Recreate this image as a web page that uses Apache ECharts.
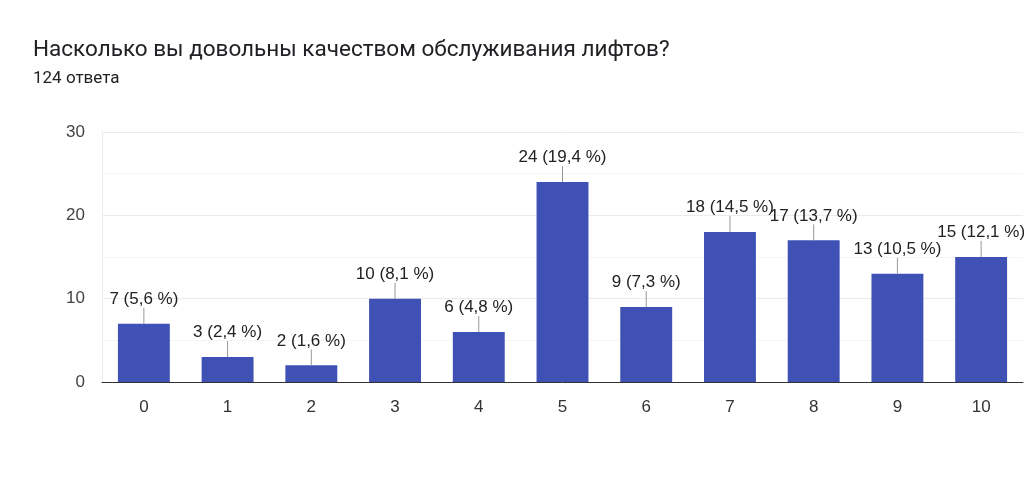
<!DOCTYPE html>
<html>
<head>
<meta charset="utf-8">
<script src="https://cdn.jsdelivr.net/npm/echarts@6/dist/echarts.min.js"></script>
<style>
html,body{margin:0;padding:0;background:#fff;}
#chart{width:1024px;height:487px;}
</style>
</head>
<body>
<div id="chart"></div>
<script>
const titleText = 'Насколько вы довольны качеством обслуживания лифтов?';
const subtitleText = '124 ответа';
const categories = ['0','1','2','3','4','5','6','7','8','9','10'];
const counts = [7, 3, 2, 10, 6, 24, 9, 18, 17, 13, 15];
const percents = ['5,6', '2,4', '1,6', '8,1', '4,8', '19,4', '7,3', '14,5', '13,7', '10,5', '12,1'];
const yTicks = [0, 10, 20, 30];

const chart = echarts.init(document.getElementById('chart'), null, {renderer: 'canvas'});
const titleFont = 'Roboto, "Noto Sans", sans-serif';
const font = '"Liberation Sans", Arial, sans-serif';
const STEM = 16;

chart.setOption({
  animation: false,
  backgroundColor: '#fff',
  title: {
    text: titleText,
    subtext: subtitleText,
    left: 33,
    top: 39,
    padding: 0,
    itemGap: 8,
    textStyle: {fontFamily: titleFont, fontSize: 22.5, fontWeight: 'normal', color: '#202124'},
    subtextStyle: {fontFamily: titleFont, fontSize: 17, color: '#202124'}
  },
  grid: {left: 102, right: 1, top: 132, bottom: 105, containLabel: false},
  xAxis: {
    type: 'category',
    data: categories,
    axisLine: {show: true, lineStyle: {color: '#333', width: 1}},
    axisTick: {show: false},
    axisLabel: {fontFamily: font, fontSize: 17, color: '#333', margin: 17},
    splitLine: {show: false}
  },
  yAxis: {
    type: 'value',
    min: yTicks[0],
    max: yTicks[yTicks.length - 1],
    interval: 10,
    axisLine: {show: true, lineStyle: {color: '#ebebeb'}},
    axisTick: {show: false},
    axisLabel: {fontFamily: font, fontSize: 17, color: '#444', margin: 17},
    splitLine: {show: true, lineStyle: {color: '#ebebeb', width: 1}},
    minorTick: {show: false, splitNumber: 2},
    minorSplitLine: {show: true, lineStyle: {color: '#f5f5f5', width: 1}}
  },
  series: [
    {
      type: 'bar',
      data: counts,
      barWidth: '62%',
      itemStyle: {color: '#3f51b5'},
      label: {
        show: true,
        position: 'top',
        distance: STEM,
        fontFamily: font,
        fontSize: 17,
        color: '#222',
        formatter: p => counts[p.dataIndex] + ' (' + percents[p.dataIndex] + ' %)'
      },
      labelLayout: {hideOverlap: false},
      z: 2
    },
    {
      type: 'custom',
      data: counts.map((v, i) => [i, v]),
      encode: {x: 0, y: 1},
      renderItem: function (params, api) {
        const pt = api.coord([api.value(0), api.value(1)]);
        return {
          type: 'line',
          shape: {x1: pt[0], y1: pt[1], x2: pt[0], y2: pt[1] - STEM},
          style: {stroke: '#999', lineWidth: 1}
        };
      },
      z: 3,
      silent: true
    }
  ]
});
</script>
</body>
</html>
